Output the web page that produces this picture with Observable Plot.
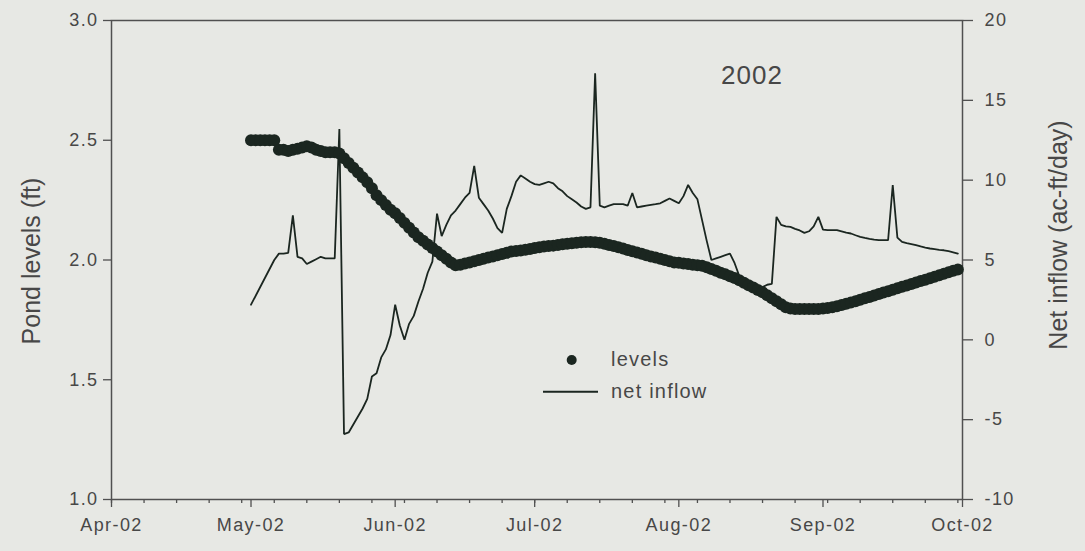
<!DOCTYPE html>
<html><head><meta charset="utf-8">
<script src="https://cdn.jsdelivr.net/npm/d3@7"></script>
<script src="https://cdn.jsdelivr.net/npm/@observablehq/plot@0.6"></script>
<style>
html,body{margin:0;padding:0;background:#e7e8e4;}
#wrap{position:relative;width:1085px;height:551px;font-family:"Liberation Sans",Arial,sans-serif;color:#474747;}
#wrap svg{display:block;}
#wrap svg text{letter-spacing:1.4px;}
.ov{position:absolute;white-space:nowrap;line-height:1;}
</style>
</head><body><div id="wrap"></div>
<script>
// ---- data ----
const levelStart = "2002-05-01"; // daily values from this date
const levelValues = [
  2.50,2.50,2.50,2.50,2.50,2.50,            // May 1-6
  2.46,2.46,2.455,2.46,2.465,2.47,2.475,2.47,2.46,2.455,2.45,2.45,2.45,2.445, // May 7-20
  2.425,2.405,2.385,2.365,2.345,2.325,2.30,2.27,2.25,2.23,2.21,             // May 21-31
  2.195,2.175,2.155,2.135,2.115,2.095,2.08,2.065,2.05,2.035,2.02,2.005,1.99,1.978,1.98, // Jun 1-15
  1.985,1.99,1.995,2.0,2.005,2.01,2.015,2.02,2.025,2.03,2.035,2.038,2.04,2.043,2.046, // Jun 16-30
  2.05,2.053,2.056,2.058,2.06,2.063,2.066,2.068,2.07,2.072,2.074,2.075,2.075,2.074,2.072, // Jul 1-15
  2.068,2.063,2.058,2.053,2.048,2.042,2.037,2.031,2.026,2.02,2.015,2.01,2.005,2.0,1.995,1.99, // Jul 16-31
  1.988,1.985,1.983,1.98,1.978,1.976,1.97,1.962,1.955,1.947,1.94,1.932,1.925,1.915,1.905, // Aug 1-15
  1.895,1.885,1.875,1.865,1.853,1.84,1.828,1.815,1.803,1.797,1.795,1.795,1.795,1.795,1.795,1.795, // Aug 16-31
  1.797,1.80,1.803,1.807,1.812,1.817,1.823,1.828,1.834,1.84,1.846,1.852,1.858,1.864,1.87, // Sep 1-15
  1.876,1.882,1.888,1.894,1.90,1.906,1.912,1.918,1.924,1.93,1.936,1.943,1.949,1.955,1.96  // Sep 16-30
];
const inflowDates = [
  "2002-05-01","2002-05-06","2002-05-07","2002-05-08","2002-05-09","2002-05-10","2002-05-11","2002-05-12",
  "2002-05-13","2002-05-14","2002-05-15","2002-05-16","2002-05-17","2002-05-18","2002-05-19","2002-05-20",
  "2002-05-21","2002-05-22","2002-05-23","2002-05-24","2002-05-25","2002-05-26","2002-05-27","2002-05-28",
  "2002-05-29","2002-05-30","2002-05-31","2002-06-01","2002-06-02","2002-06-03","2002-06-04","2002-06-05",
  "2002-06-06","2002-06-07","2002-06-08","2002-06-09","2002-06-10","2002-06-11","2002-06-12","2002-06-13",
  "2002-06-14","2002-06-15","2002-06-16","2002-06-17","2002-06-18","2002-06-19","2002-06-20","2002-06-21",
  "2002-06-22","2002-06-23","2002-06-24","2002-06-25","2002-06-26","2002-06-27","2002-06-28","2002-06-29",
  "2002-06-30","2002-07-01","2002-07-02","2002-07-03","2002-07-04","2002-07-05","2002-07-06","2002-07-07",
  "2002-07-08","2002-07-09","2002-07-10","2002-07-11","2002-07-12","2002-07-13","2002-07-14","2002-07-15",
  "2002-07-16","2002-07-17","2002-07-18","2002-07-19","2002-07-20","2002-07-21","2002-07-22","2002-07-23",
  "2002-07-24","2002-07-25","2002-07-26","2002-07-27","2002-07-28","2002-07-29","2002-07-30","2002-07-31",
  "2002-08-01","2002-08-02","2002-08-03","2002-08-04","2002-08-05","2002-08-06","2002-08-07","2002-08-08",
  "2002-08-09","2002-08-10","2002-08-11","2002-08-12","2002-08-13","2002-08-14","2002-08-15","2002-08-16",
  "2002-08-17","2002-08-18","2002-08-19","2002-08-20","2002-08-21","2002-08-22","2002-08-23","2002-08-24",
  "2002-08-25","2002-08-26","2002-08-27","2002-08-28","2002-08-29","2002-08-30","2002-08-31","2002-09-01",
  "2002-09-02","2002-09-03","2002-09-04","2002-09-05","2002-09-06","2002-09-07","2002-09-08","2002-09-09",
  "2002-09-10","2002-09-11","2002-09-12","2002-09-13","2002-09-14","2002-09-15","2002-09-16","2002-09-17",
  "2002-09-18","2002-09-19","2002-09-20","2002-09-21","2002-09-22","2002-09-23","2002-09-24","2002-09-25",
  "2002-09-26","2002-09-27","2002-09-28","2002-09-29","2002-09-30"
];
const inflowValues = [
  2.2,5.0,5.4,5.4,5.45,7.8,5.2,5.1,
  4.75,4.9,5.05,5.2,5.1,5.1,5.1,13.2,
  -5.9,-5.8,-5.3,-4.8,-4.3,-3.7,-2.3,-2.1,
  -1.1,-0.6,0.3,2.2,0.9,0.0,1.0,1.5,
  2.4,3.2,4.2,4.9,7.9,6.5,7.2,7.8,
  8.1,8.5,8.9,9.2,10.9,8.9,8.5,8.1,
  7.6,7.0,6.7,8.2,9.0,9.9,10.3,10.1,
  9.9,9.75,9.7,9.8,9.9,9.8,9.5,9.3,
  9.0,8.8,8.6,8.35,8.2,8.3,16.7,8.4,
  8.3,8.4,8.5,8.5,8.5,8.4,9.2,8.3,
  8.35,8.4,8.45,8.5,8.55,8.7,8.85,8.7,
  8.55,9.0,9.7,9.2,8.8,7.5,6.2,5.0,
  5.1,5.2,5.3,5.4,4.8,4.0,3.85,3.7,
  3.55,3.35,3.3,3.45,3.5,7.7,7.2,7.1,
  7.07,6.95,6.85,6.7,6.8,7.1,7.7,6.9,
  6.87,6.87,6.87,6.8,6.72,6.66,6.55,6.45,
  6.38,6.32,6.27,6.24,6.24,6.24,9.7,6.4,
  6.13,6.05,6.0,5.93,5.85,5.78,5.72,5.68,
  5.64,5.61,5.55,5.48,5.4
];
const monthTicks = ["2002-04-01","2002-05-01","2002-06-01","2002-07-01","2002-08-01","2002-09-01","2002-10-01"];
const monthLabels = ["Apr-02","May-02","Jun-02","Jul-02","Aug-02","Sep-02","Oct-02"];
const leftTicks = [1.0,1.5,2.0,2.5,3.0];
const rightTicks = [-10,-5,0,5,10,15,20];
const seriesNames = ["levels","net inflow"];
const yearLabel = "2002";
const leftTitle = "Pond levels (ft)";
const rightTitle = "Net inflow (ac-ft/day)";

// ---- build ----
const ink = "#1b2620";
const axisInk = "#505050";
const parse = d3.utcParse("%Y-%m-%d");
const toFt = v => 1 + (v + 10) / 15;          // right-axis value -> left-axis units
const fromFt = f => Math.round((f - 1) * 15 - 10);
const start = parse(levelStart);
const levelData = levelValues.map((v, i) => ({date: d3.utcDay.offset(start, i), v}));
const inflowData = inflowDates.map((d, i) => ({date: parse(d), v: inflowValues[i]}));
const xDomain = [parse(monthTicks[0]), parse(monthTicks[monthTicks.length - 1])];
const weekTicks = d3.range(0, 184, 7).map(i => d3.utcDay.offset(xDomain[0], i));
const monthDates = monthTicks.map(parse);

const chart = Plot.plot({
  width: 1085, height: 551,
  marginLeft: 111, marginRight: 123, marginTop: 20, marginBottom: 52,
  style: {background: "transparent", fontFamily: "'Liberation Sans', Arial, sans-serif", fontSize: "18px", color: "#474747"},
  x: {type: "utc", domain: xDomain},
  y: {domain: [1, 3]},
  marks: [
    Plot.axisX(weekTicks, {tickSize: 4, tickFormat: () => "", stroke: axisInk, strokeWidth: 1.3, label: null}),
    Plot.axisX(monthDates, {tickSize: 8, tickPadding: 11, tickFormat: (d, i) => monthLabels[i], stroke: axisInk, strokeWidth: 1.3, label: null}),
    Plot.axisY(leftTicks, {anchor: "left", tickSize: 8, tickPadding: 5, tickFormat: d => d.toFixed(1), stroke: axisInk, strokeWidth: 1.3, label: null}),
    Plot.axisY(rightTicks.map(toFt), {anchor: "right", tickSize: 10, tickPadding: 12, tickFormat: d => String(fromFt(d)), stroke: axisInk, strokeWidth: 1.3, label: null}),
    Plot.frame({stroke: axisInk, strokeWidth: 1.5}),
    Plot.line(inflowData, {x: "date", y: d => toFt(d.v), stroke: ink, strokeWidth: 1.8, strokeLinejoin: "miter"}),
    Plot.dot(levelData, {x: "date", y: "v", r: 6, fill: ink, stroke: "none"})
  ]
});
const wrap = document.getElementById("wrap");
wrap.appendChild(chart);

function overlay(text, css) {
  const el = document.createElement("div");
  el.className = "ov"; el.textContent = text;
  el.style.cssText += css;
  wrap.appendChild(el);
  return el;
}
// axis titles
overlay(leftTitle, "left:31px;top:261px;transform:translate(-50%,-50%) rotate(-90deg);font-size:25px;");
overlay(rightTitle, "left:1058px;top:235px;transform:translate(-50%,-50%) rotate(-90deg);font-size:25px;");
// year label
overlay(yearLabel, "left:752px;top:75px;transform:translate(-50%,-50%);font-size:26px;letter-spacing:1px;");

// legend
const lg = document.createElement("div");
lg.className = "ov";
lg.style.cssText += "left:540px;top:345px;";
lg.innerHTML =
  `<svg width="62" height="60" style="position:absolute;left:0;top:0">
     <circle cx="31.7" cy="15" r="5" fill="${ink}"/>
     <line x1="3" x2="58" y1="46.7" y2="46.7" stroke="${ink}" stroke-width="2"/>
   </svg>
   <div style="position:absolute;left:71px;top:4px;font-size:20px;letter-spacing:1.2px">${seriesNames[0]}</div>
   <div style="position:absolute;left:71px;top:36px;font-size:20px;letter-spacing:1.2px">${seriesNames[1]}</div>`;
wrap.appendChild(lg);
</script>
</body></html>
